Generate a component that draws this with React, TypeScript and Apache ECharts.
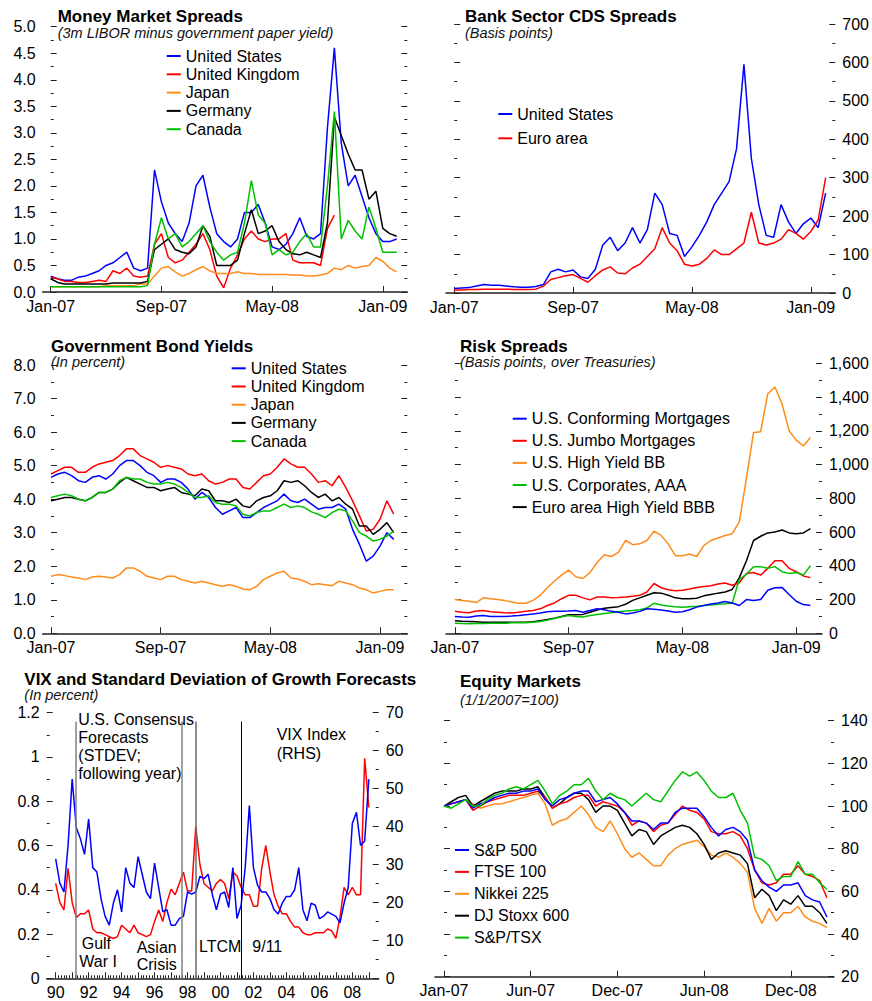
import React, { useEffect, useRef } from "react";
import * as echarts from "echarts";

const FONT = '"Liberation Sans", Arial, Helvetica, sans-serif';
const BLUE = "#0000ff";
const RED = "#ff0000";
const ORANGE = "#ff8c1a";
const BLACK = "#000000";
const GREEN = "#00c000";
const AX = "#222222";

// x grids: months since 1 Jan 2007 (half-month steps); quarters for the VIX panel
const monthsToFeb09 = Array.from({ length: 51 }, (_, i) => i / 2);
const monthsToMar09 = Array.from({ length: 54 }, (_, i) => i / 2);
const vixQuarters = Array.from({ length: 77 }, (_, i) => 1990 + i / 4);

// tick labels
const tsTicks = [0, 8, 16, 24];
const tsLabels = ["Jan-07", "Sep-07", "May-08", "Jan-09"];
const eqTicks = [0, 6, 12, 18, 24];
const eqLabels = ["Jan-07", "Jun-07", "Dec-07", "Jun-08", "Dec-08"];
const vixYearTicks = [1990, 1991, 1992, 1993, 1994, 1995, 1996, 1997, 1998, 1999, 2000, 2001, 2002, 2003, 2004, 2005, 2006, 2007, 2008, 2009];
const vixYearLabels = [1990, 1992, 1994, 1996, 1998, 2000, 2002, 2004, 2006, 2008];

// Panel 1: Money market spreads (percent)
const mmNames = ["United States", "United Kingdom", "Japan", "Germany", "Canada"];
const mmUS = [0.3, 0.25, 0.22, 0.22, 0.28, 0.3, 0.35, 0.4, 0.5, 0.55, 0.65, 0.75, 0.45, 0.4, 0.45, 2.3, 1.7, 1.3, 1.1, 0.95, 1.3, 2.0, 2.2, 1.6, 1.1, 0.95, 0.85, 1.0, 1.5, 1.5, 1.65, 1.3, 0.85, 0.8, 0.9, 1.1, 1.4, 1.05, 1.0, 1.1, 3.1, 4.6, 2.8, 2.0, 2.2, 1.8, 1.4, 1.1, 0.95, 0.95, 1.0];
const mmUK = [0.28, 0.25, 0.2, 0.2, 0.18, 0.18, 0.2, 0.22, 0.2, 0.4, 0.35, 0.45, 0.3, 0.28, 0.3, 0.9, 1.1, 0.65, 0.55, 0.6, 0.75, 0.9, 1.1, 0.8, 0.3, 0.08, 0.45, 0.7, 1.0, 1.15, 1.0, 0.95, 1.0, 1.0, 1.1, 0.6, 0.55, 0.55, 0.55, 0.5, 1.2, 1.45];
const mmJapan = [0.1, 0.1, 0.1, 0.1, 0.1, 0.1, 0.1, 0.1, 0.12, 0.12, 0.12, 0.12, 0.12, 0.15, 0.15, 0.3, 0.45, 0.48, 0.38, 0.3, 0.35, 0.42, 0.48, 0.4, 0.35, 0.35, 0.35, 0.38, 0.35, 0.35, 0.33, 0.33, 0.33, 0.33, 0.33, 0.32, 0.32, 0.3, 0.3, 0.32, 0.35, 0.45, 0.42, 0.5, 0.45, 0.48, 0.5, 0.65, 0.58, 0.45, 0.38];
const mmGermany = [0.25, 0.18, 0.15, 0.15, 0.15, 0.15, 0.15, 0.15, 0.15, 0.17, 0.17, 0.17, 0.17, 0.17, 0.2, 0.8, 0.9, 1.0, 0.8, 0.75, 0.72, 0.85, 1.25, 1.05, 0.5, 0.5, 0.5, 0.6, 1.1, 1.55, 1.1, 1.15, 1.25, 0.95, 0.8, 0.72, 0.7, 0.75, 0.7, 0.65, 1.3, 3.3, 2.95, 2.6, 2.3, 2.3, 1.75, 1.9, 1.2, 1.1, 1.05];
const mmCanada = [0.1, 0.1, 0.1, 0.1, 0.1, 0.1, 0.1, 0.1, 0.1, 0.1, 0.1, 0.1, 0.1, 0.1, 0.12, 0.9, 1.4, 1.0, 1.1, 0.85, 0.95, 1.1, 1.25, 0.95, 0.75, 0.6, 0.7, 0.75, 1.3, 2.1, 1.45, 1.3, 0.7, 0.8, 0.7, 0.75, 0.95, 1.1, 0.85, 0.85, 2.0, 3.4, 1.0, 1.35, 1.15, 1.0, 1.6, 1.2, 0.75, 0.75, 0.75];

// Panel 2: Bank sector CDS spreads (basis points)
const cdsNames = ["United States", "Euro area"];
const cdsUS = [12, 13, 14, 18, 22, 20, 20, 18, 16, 15, 15, 17, 22, 55, 62, 55, 60, 42, 38, 62, 125, 145, 110, 130, 170, 130, 165, 260, 230, 155, 150, 95, 120, 150, 185, 230, 260, 290, 375, 595, 350, 230, 150, 145, 230, 185, 155, 180, 195, 170, 260];
const cdsEuro = [8, 8, 9, 9, 10, 10, 10, 10, 9, 9, 9, 10, 18, 35, 40, 45, 48, 38, 28, 45, 60, 68, 52, 50, 65, 75, 95, 115, 170, 130, 110, 75, 70, 75, 90, 112, 100, 100, 115, 130, 210, 130, 125, 130, 140, 165, 155, 140, 160, 190, 300];

// Panel 3: Government bond yields (percent)
const gbNames = ["United States", "United Kingdom", "Japan", "Germany", "Canada"];
const gbUS = [4.65, 4.75, 4.8, 4.7, 4.55, 4.5, 4.65, 4.7, 4.6, 4.75, 5.0, 5.15, 5.15, 5.0, 4.8, 4.7, 4.5, 4.6, 4.6, 4.5, 4.3, 4.0, 4.2, 4.05, 3.75, 3.55, 3.65, 3.75, 3.45, 3.45, 3.6, 3.75, 3.85, 3.95, 4.15, 3.95, 3.9, 4.0, 3.85, 3.7, 3.75, 3.75, 3.85, 3.7, 3.1, 2.65, 2.15, 2.3, 2.6, 3.0, 2.8];
const gbUK = [4.75, 4.85, 4.95, 4.95, 4.8, 4.8, 4.95, 5.05, 5.1, 5.15, 5.3, 5.5, 5.5, 5.3, 5.2, 5.1, 4.95, 5.0, 4.95, 4.9, 4.75, 4.7, 4.75, 4.55, 4.45, 4.5, 4.6, 4.6, 4.35, 4.3, 4.5, 4.7, 4.75, 4.95, 5.2, 5.05, 4.95, 4.95, 4.75, 4.5, 4.55, 4.4, 4.7, 4.35, 3.95, 3.5, 3.05, 3.1, 3.4, 3.95, 3.55];
const gbJapan = [1.7, 1.75, 1.72, 1.68, 1.65, 1.6, 1.68, 1.7, 1.68, 1.65, 1.75, 1.95, 1.95, 1.85, 1.7, 1.65, 1.6, 1.7, 1.7, 1.6, 1.55, 1.5, 1.55, 1.5, 1.45, 1.4, 1.45, 1.4, 1.32, 1.3, 1.4, 1.6, 1.7, 1.8, 1.85, 1.65, 1.62, 1.55, 1.45, 1.48, 1.45, 1.42, 1.55, 1.5, 1.45, 1.35, 1.3, 1.2, 1.25, 1.3, 1.3];
const gbGermany = [3.95, 4.0, 4.05, 4.05, 4.0, 3.95, 4.05, 4.2, 4.2, 4.3, 4.5, 4.65, 4.55, 4.45, 4.35, 4.35, 4.25, 4.3, 4.35, 4.2, 4.15, 4.1, 4.3, 4.25, 3.95, 3.95, 3.9, 4.0, 3.8, 3.75, 3.95, 4.05, 4.1, 4.25, 4.55, 4.5, 4.55, 4.4, 4.2, 4.05, 4.15, 3.95, 4.05, 3.85, 3.7, 3.2, 3.2, 2.95, 3.1, 3.3, 3.0];
const gbCanada = [4.05, 4.1, 4.15, 4.1, 4.0, 3.95, 4.05, 4.2, 4.2, 4.3, 4.55, 4.65, 4.6, 4.6, 4.5, 4.45, 4.45, 4.5, 4.45, 4.35, 4.2, 4.05, 4.05, 4.1, 3.9, 3.85, 3.85, 3.8, 3.55, 3.5, 3.6, 3.65, 3.65, 3.75, 3.85, 3.75, 3.8, 3.75, 3.62, 3.55, 3.45, 3.6, 3.7, 3.65, 3.35, 3.0, 2.9, 2.75, 2.8, 2.9, 3.05];

// Panel 4: Risk spreads (basis points, over Treasuries)
const rsNames = ["U.S. Conforming Mortgages", "U.S. Jumbo Mortgages", "U.S. High Yield BB", "U.S. Corporates, AAA", "Euro area High Yield BBB"];
const rsConforming = [100, 97, 95, 103, 105, 100, 100, 100, 102, 105, 110, 115, 120, 128, 130, 130, 132, 135, 125, 135, 145, 140, 130, 125, 115, 120, 130, 145, 142, 138, 132, 125, 128, 140, 155, 165, 173, 180, 188, 180, 165, 200, 195, 200, 255, 270, 272, 230, 190, 170, 165];
const rsJumbo = [130, 125, 122, 132, 135, 128, 125, 122, 120, 125, 130, 135, 145, 165, 180, 205, 225, 225, 210, 198, 215, 215, 210, 212, 215, 220, 225, 245, 295, 270, 258, 252, 255, 262, 272, 278, 282, 292, 298, 285, 300, 355, 360, 345, 385, 430, 430, 385, 365, 340, 330];
const rsHighYieldBB = [200, 195, 190, 182, 210, 205, 200, 195, 185, 178, 178, 195, 225, 270, 310, 345, 375, 335, 325, 360, 420, 465, 455, 480, 550, 525, 530, 550, 605, 580, 530, 460, 460, 470, 455, 520, 550, 565, 580, 590, 660, 920, 1190, 1195, 1420, 1460, 1360, 1200, 1145, 1110, 1160];
const rsCorpAAA = [60, 58, 57, 58, 58, 60, 60, 60, 62, 63, 63, 65, 70, 78, 88, 98, 105, 100, 97, 105, 112, 118, 122, 128, 132, 135, 140, 150, 178, 168, 162, 158, 155, 158, 160, 165, 168, 172, 175, 180, 320, 350, 395, 395, 385, 395, 365, 355, 360, 345, 400];
const rsEuroBBB = [75, 72, 70, 68, 66, 65, 65, 65, 65, 65, 65, 68, 75, 82, 90, 100, 110, 110, 112, 125, 138, 148, 153, 158, 172, 195, 210, 225, 240, 238, 225, 210, 205, 205, 208, 222, 230, 238, 245, 260, 330, 430, 550, 575, 595, 600, 612, 595, 590, 595, 620];

// Panel 5: VIX and standard deviation of growth forecasts
const vixStdev = [0.54, 0.43, 0.39, 0.6, 0.9, 0.68, 0.63, 0.56, 0.72, 0.5, 0.48, 0.36, 0.28, 0.24, 0.34, 0.4, 0.3, 0.5, 0.43, 0.41, 0.55, 0.47, 0.39, 0.36, 0.52, 0.41, 0.3, 0.31, 0.24, 0.24, 0.27, 0.28, 0.39, 0.38, 0.39, 0.46, 0.45, 0.47, 0.38, 0.31, 0.38, 0.39, 0.32, 0.5, 0.27, 0.33, 0.5, 0.78, 0.5, 0.42, 0.39, 0.39, 0.36, 0.31, 0.29, 0.34, 0.37, 0.37, 0.4, 0.5, 0.31, 0.26, 0.34, 0.33, 0.27, 0.28, 0.3, 0.29, 0.28, 0.25, 0.34, 0.41, 0.7, 0.75, 0.6, 0.62, 0.9];
const vixIndex = [25, 20, 18, 29, 20, 16, 17, 17, 18, 13, 12, 12, 11.5, 11, 10.5, 11, 14, 13, 12, 14, 12, 11.5, 11, 11.5, 15, 18, 15, 20, 23.5, 22, 25, 28, 23, 23, 40, 30, 25, 24, 23, 25, 26, 25, 21, 28, 27, 24, 22, 22, 19, 19, 29, 35, 28, 22, 19, 17, 17, 15, 13.5, 13.5, 12, 11.5, 11.5, 12, 12, 12, 13, 12.5, 10.5, 16, 24, 22, 24, 22, 22, 58, 45];
const eventYears = [1991.23, 1997.66, 1998.48, 2001.27];
const eventColors = ["#808080", "#808080", "#6a6a6a", "#000000"];

// Panel 6: Equity markets (1/1/2007=100)
const eqNames = ["S&P 500", "FTSE 100", "Nikkei 225", "DJ Stoxx 600", "S&P/TSX"];
const eqSP500 = [100, 101, 102, 103, 99, 101, 102, 104, 105, 106, 106, 107, 107, 108, 103, 100, 103, 104, 106, 107, 107, 102, 103, 104, 101, 97, 93, 93, 92, 89, 92, 92, 97, 99, 99, 99, 95, 90, 86, 89, 90, 88, 84, 70, 65, 62, 60, 63, 63, 64, 58, 56, 55, 48];
const eqFTSE = [100, 101, 102, 103, 98, 100, 102, 103, 104, 105, 105, 105, 106, 107, 104, 99, 101, 102, 104, 105, 105, 100, 102, 101, 100, 97, 91, 93, 92, 88, 91, 92, 96, 100, 98, 97, 94, 88, 87, 87, 88, 86, 80, 70, 64, 63, 64, 68, 68, 72, 68, 67, 65, 57];
const eqNikkei = [100, 101, 102, 103, 101, 99, 100, 101, 101, 102, 103, 104, 105, 106, 101, 91, 93, 94, 97, 100, 96, 90, 88, 93, 87, 80, 76, 78, 75, 72, 72, 77, 80, 82, 83, 84, 81, 77, 76, 78, 76, 73, 69, 52, 45, 52, 46, 50, 50, 53, 48, 46, 45, 43];
const eqStoxx = [100, 102, 104, 105, 100, 102, 104, 106, 107, 107, 107, 108, 108, 109, 104, 99, 101, 104, 106, 106, 103, 97, 100, 100, 98, 92, 86, 89, 88, 82, 86, 88, 90, 91, 90, 87, 82, 75, 78, 79, 78, 77, 73, 57, 61, 58, 51, 56, 54, 58, 53, 53, 50, 45];
const eqTSX = [100, 99, 101, 103, 100, 100, 103, 105, 106, 108, 109, 108, 110, 112, 107, 101, 105, 107, 110, 110, 113, 107, 103, 106, 104, 103, 100, 103, 106, 103, 102, 107, 112, 116, 114, 116, 112, 107, 104, 104, 106, 98, 92, 76, 75, 72, 65, 67, 67, 74, 68, 68, 64, 61];

const labelText = { fontFamily: FONT, fontSize: 16, color: "#000" };

function nearestLabel(v: number, ticks: number[], labels: string[]) {
  let best = -1;
  let bd = 1e9;
  ticks.forEach((t, i) => {
    const d = Math.abs(t - v);
    if (d < bd) { bd = d; best = i; }
  });
  return bd < 1e-6 && best >= 0 ? labels[best] : "";
}

function timeX(gridIndex: number, min: number, max: number, ticks: number[], labels: string[]) {
  return {
    type: "value", gridIndex, min, max, position: "bottom",
    axisLine: { show: true, onZero: false, lineStyle: { color: AX, width: 1.5 } },
    axisTick: { show: true, inside: true, length: 6, customValues: ticks, lineStyle: { color: AX, width: 1 } },
    axisLabel: { show: true, customValues: ticks, margin: 6, ...labelText, formatter: (v: number) => nearestLabel(v, ticks, labels) },
    splitLine: { show: false },
  };
}

function yAx(gridIndex: number, position: string, min: number, max: number, interval: number, showLabels: boolean, formatter?: any) {
  return {
    type: "value", gridIndex, position, min, max, interval,
    axisLine: { show: false },
    axisTick: { show: true, inside: true, length: 6, lineStyle: { color: AX, width: 1 } },
    minorTick: { show: true, splitNumber: 2, length: 3, lineStyle: { color: AX, width: 1 } },
    axisLabel: { show: showLabels, margin: 7, ...labelText, formatter },
    splitLine: { show: false },
    minorSplitLine: { show: false },
  };
}

function line(name: string, xs: number[], ys: number[], color: string, xi: number, yi: number, extra: any = {}) {
  return {
    type: "line", name, xAxisIndex: xi, yAxisIndex: yi,
    data: ys.map((v, i) => [xs[i], v]),
    showSymbol: false, symbol: "none",
    lineStyle: { color, width: 1.5 }, itemStyle: { color },
    emphasis: { disabled: true },
    ...extra,
  };
}

function legend(names: string[], left: number, top: number, gap: number) {
  return {
    data: names, left, top, orient: "vertical", padding: 0,
    itemWidth: 14, itemHeight: 2, itemGap: gap, icon: "rect", selectedMode: false,
    textStyle: { ...labelText, lineHeight: 16 },
  };
}

function title(text: string, subtext: string, left: number, top: number, gap: number) {
  return {
    text, subtext, left, top, padding: 0, itemGap: gap,
    textStyle: { fontFamily: FONT, fontSize: 17, fontWeight: "bold", color: "#000", lineHeight: 17 },
    subtextStyle: { fontFamily: FONT, fontSize: 14.5, fontStyle: "italic", color: "#111", lineHeight: 15 },
  };
}

const fmt1 = (v: number) => v.toFixed(1);
const fmtThousands = (v: number) => v.toLocaleString("en-US");

export default function App() {
  const ref = useRef<HTMLDivElement>(null);
  useEffect(() => {
    document.body.style.margin = "0";
    if (!ref.current) return;
    const chart = echarts.init(ref.current, undefined, { renderer: "svg" });
    const vixMinorTicks: number[] = [];
    for (let k = 0; k <= 19 * 6; k++) vixMinorTicks.push(1990 + k / 6);

    const option: any = {
      animation: false,
      backgroundColor: "#ffffff",
      title: [
        title("Money Market Spreads", "(3m LIBOR minus government paper yield)", 57.7, 7.5, 1),
        title("Bank Sector CDS Spreads", "(Basis points)", 465, 7.5, 1),
        title("Government Bond Yields", "(In percent)", 51, 337.5, 0.3),
        title("Risk Spreads", "(Basis points, over Treasuries)", 460, 337.5, 0),
        title("VIX and Standard Deviation of Growth Forecasts", "(In percent)", 24.3, 670.5, 0),
        title("Equity Markets", "(1/1/2007=100)", 460, 672.5, 3),
      ],
      legend: [
        legend(mmNames, 166.7, 48, 2.3),
        legend(cdsNames, 498.3, 106, 8.3),
        legend(gbNames, 231.7, 360.3, 2.2),
        legend(rsNames, 512.7, 410.7, 6.1),
        legend(eqNames, 455, 842, 5.9),
      ],
      grid: [
        { left: 42.7, top: 26.7, width: 364.6, height: 265.3 },
        { left: 446, top: 24, width: 393, height: 269 },
        { left: 42.7, top: 365, width: 364.6, height: 268.3 },
        { left: 446, top: 363.3, width: 380.7, height: 270 },
        { left: 46.7, top: 712.7, width: 332, height: 265.6 },
        { left: 435, top: 720.7, width: 399, height: 256 },
      ],
      xAxis: [
        timeX(0, -0.578, 25.77, tsTicks, tsLabels),
        timeX(1, -0.553, 25.65, tsTicks, tsLabels),
        timeX(2, -0.605, 25.99, tsTicks, tsLabels),
        timeX(3, -0.625, 25.81, tsTicks, tsLabels),
        {
          type: "value", gridIndex: 4, min: 1989.454, max: 2009.6, position: "bottom",
          axisLine: { show: true, onZero: false, lineStyle: { color: AX, width: 1.5 } },
          axisTick: { show: true, inside: true, length: 6, customValues: vixYearTicks, lineStyle: { color: AX, width: 1 } },
          axisLabel: {
            show: true, customValues: vixYearLabels, margin: 6, ...labelText,
            formatter: (v: number) => String(Math.round(v) % 100).padStart(2, "0"),
          },
          splitLine: { show: false },
        },
        timeX(5, -0.623, 26.99, eqTicks, eqLabels),
        {
          type: "value", gridIndex: 4, min: 1989.454, max: 2009.6, position: "bottom",
          axisLine: { show: false, onZero: false },
          axisTick: { show: true, inside: true, length: 3, customValues: vixMinorTicks, lineStyle: { color: AX, width: 1 } },
          axisLabel: { show: false },
          splitLine: { show: false },
        },
      ],
      yAxis: [
        yAx(0, "left", 0, 5, 0.5, true, fmt1),
        yAx(0, "right", 0, 5, 0.5, false),
        yAx(1, "left", 0, 700, 100, false),
        yAx(1, "right", 0, 700, 100, true),
        yAx(2, "left", 0, 8, 1, true, fmt1),
        yAx(2, "right", 0, 8, 1, false),
        yAx(3, "left", 0, 1600, 200, false),
        yAx(3, "right", 0, 1600, 200, true, fmtThousands),
        yAx(4, "left", 0, 1.2, 0.2, true),
        yAx(4, "right", 0, 70, 10, true),
        yAx(5, "left", 20, 140, 20, false),
        yAx(5, "right", 20, 140, 20, true),
      ],
      series: [
        // Panel 1
        line("United States", monthsToFeb09, mmUS, BLUE, 0, 0),
        line("United Kingdom", monthsToFeb09, mmUK, RED, 0, 0),
        line("Japan", monthsToFeb09, mmJapan, ORANGE, 0, 0),
        line("Germany", monthsToFeb09, mmGermany, BLACK, 0, 0),
        line("Canada", monthsToFeb09, mmCanada, GREEN, 0, 0),
        // Panel 2
        line("United States", monthsToFeb09, cdsUS, BLUE, 1, 3),
        line("Euro area", monthsToFeb09, cdsEuro, RED, 1, 3),
        // Panel 3
        line("Japan", monthsToFeb09, gbJapan, ORANGE, 2, 4),
        line("United Kingdom", monthsToFeb09, gbUK, RED, 2, 4),
        line("Germany", monthsToFeb09, gbGermany, BLACK, 2, 4),
        line("United States", monthsToFeb09, gbUS, BLUE, 2, 4),
        line("Canada", monthsToFeb09, gbCanada, GREEN, 2, 4),
        // Panel 4
        line("U.S. High Yield BB", monthsToFeb09, rsHighYieldBB, ORANGE, 3, 7),
        line("Euro area High Yield BBB", monthsToFeb09, rsEuroBBB, BLACK, 3, 7),
        line("U.S. Jumbo Mortgages", monthsToFeb09, rsJumbo, RED, 3, 7),
        line("U.S. Corporates, AAA", monthsToFeb09, rsCorpAAA, GREEN, 3, 7),
        line("U.S. Conforming Mortgages", monthsToFeb09, rsConforming, BLUE, 3, 7),
        // Panel 5
        line("VIX Index (RHS)", vixQuarters, vixIndex, RED, 4, 9),
        line("U.S. Consensus Forecasts (STDEV; following year)", vixQuarters, vixStdev, BLUE, 4, 8, {
          markLine: {
            silent: true, symbol: ["none", "none"], label: { show: false },
            data: eventYears.map((yr, i) => [
              { coord: [yr, 0], lineStyle: { color: eventColors[i], width: i === 3 ? 1 : 1.5, type: "solid" } },
              { coord: [yr, 1.16] },
            ]),
          },
        }),
        // Panel 6
        line("Nikkei 225", monthsToMar09, eqNikkei, ORANGE, 5, 11),
        line("DJ Stoxx 600", monthsToMar09, eqStoxx, BLACK, 5, 11),
        line("FTSE 100", monthsToMar09, eqFTSE, RED, 5, 11),
        line("S&P 500", monthsToMar09, eqSP500, BLUE, 5, 11),
        line("S&P/TSX", monthsToMar09, eqTSX, GREEN, 5, 11),
      ],
      graphic: [
        { type: "text", x: 78.3, y: 710.3, style: { text: "U.S. Consensus\nForecasts\n(STDEV;\nfollowing year)", fontFamily: FONT, fontSize: 16, lineHeight: 18, fill: "#000", verticalAlign: "top", align: "left" } },
        { type: "text", x: 276.7, y: 725, style: { text: "VIX Index\n(RHS)", fontFamily: FONT, fontSize: 16, lineHeight: 18.7, fill: "#000", verticalAlign: "top", align: "left" } },
        { type: "text", x: 81.7, y: 934.3, style: { text: "Gulf", fontFamily: FONT, fontSize: 16, lineHeight: 18, fill: "#000", verticalAlign: "top", align: "left" } },
        { type: "text", x: 79.3, y: 952.7, style: { text: "War I", fontFamily: FONT, fontSize: 16, lineHeight: 18, fill: "#000", verticalAlign: "top", align: "left" } },
        { type: "text", x: 136.7, y: 938.3, style: { text: "Asian\nCrisis", fontFamily: FONT, fontSize: 16, lineHeight: 17.7, fill: "#000", verticalAlign: "top", align: "left" } },
        { type: "text", x: 199, y: 937.7, style: { text: "LTCM", fontFamily: FONT, fontSize: 16, lineHeight: 18, fill: "#000", verticalAlign: "top", align: "left" } },
        { type: "text", x: 252.3, y: 937.7, style: { text: "9/11", fontFamily: FONT, fontSize: 16, lineHeight: 18, fill: "#000", verticalAlign: "top", align: "left" } },
      ],
    };
    chart.setOption(option);
    return () => chart.dispose();
  }, []);
  return <div ref={ref} style={{ width: 872, height: 1001 }} />;
}
